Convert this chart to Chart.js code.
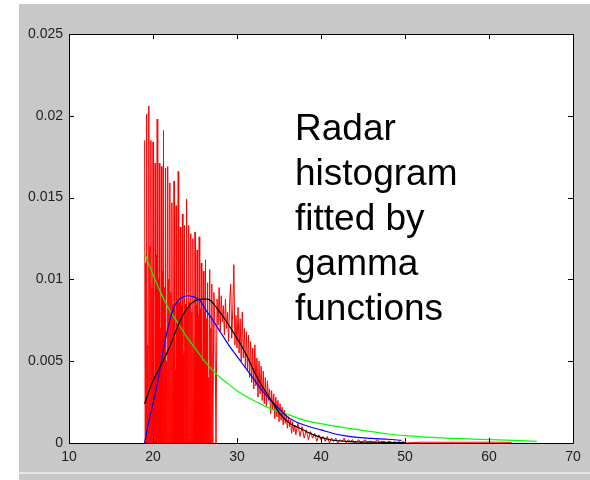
<!DOCTYPE html>
<html>
<head>
<meta charset="utf-8">
<script src="https://cdn.jsdelivr.net/npm/chart.js@4.4.0/dist/chart.umd.min.js"></script>
<style>
  html, body { margin: 0; padding: 0; background: #fff; }
</style>
</head>
<body>
<canvas id="radarHist" width="590" height="480"></canvas>
<script>
// histogram values are in units of 1e-4
const HIST_UNIT = 1e-4;

// 19 .. 27, bins every 0.0625 (spike, empty, mid, empty)
const histA = [
  185, 0, 110, 0, 201, 0, 60, 0, 206, 0, 120, 0, 185, 0, 95, 0,
  184, 0, 40, 0, 171, 0, 115, 0, 198, 0, 100, 0, 171, 0, 70, 0,
  169, 0, 105, 0, 191, 0, 95, 0, 168, 0, 50, 0, 169, 0, 100, 0,
  159, 0, 92, 0, 147, 0, 85, 0, 160, 0, 45, 0, 145, 0, 88, 0,
  166, 0, 86, 0, 132, 0, 84, 0, 140, 0, 55, 0, 133, 0, 85, 0,
  149, 0, 82, 0, 133, 0, 86, 0, 128, 0, 80, 0, 125, 0, 60, 0,
  129, 0, 84, 0, 118, 0, 78, 0, 126, 0, 82, 0, 110, 0, 50, 0,
  105, 0, 80, 0, 112, 0, 76, 0, 98, 0, 40, 0, 106, 0, 70, 0,
  97];
// 27.125 .. 37, bins every 0.125
const histB = [0, 92, 70, 0, 88, 72, 95, 68, 90, 74, 84, 66, 88, 70, 80, 62, 86, 97, 64, 82,
  109, 60, 78, 58, 83, 55, 76, 50, 80, 52, 70, 46, 68, 44, 66, 40, 62, 37, 58, 33,
  60, 35, 52, 28, 50, 30, 47, 26, 44, 24, 40, 22, 38, 26, 33, 18, 32, 20, 30, 15,
  28, 16, 26, 13, 24, 14, 22, 11, 20, 12, 17, 9, 16, 10, 14, 6, 13, 7, 11, 5];
// 37.25 .. 50, bins every 0.25
const histC = [12, 4, 10, 3, 8, 2, 7, 3, 6, 1, 5, 2, 4, 1, 4, 0, 3, 1, 3, 0,
  2, 1, 3, 0, 2, 1, 2, 0, 1, 2, 0, 1, 2, 0, 1, 1, 0, 1, 2, 0,
  1, 1, 0, 1, 1, 0, 1, 0, 1, 0, 1, 0];
const histTailX = [52, 56, 60, 62.7];
const histTailY = [0.5, 0.4, 0.5, 0.4];

// fitted gamma curves
const greenX = [19, 20, 21, 22, 23, 24, 25, 26, 27, 28, 29, 30, 32, 34, 36, 38, 40, 42, 44, 46, 48, 50, 52, 55, 58, 62, 65.7];
const greenY = [0.0116, 0.0103, 0.0091, 0.0081, 0.0073, 0.0065, 0.0058, 0.0051, 0.0045, 0.0040, 0.0036, 0.0032,
  0.0026, 0.0021, 0.00175, 0.0014, 0.00118, 0.0010, 0.00085, 0.0007, 0.00055, 0.00045, 0.00038, 0.0003, 0.00024, 0.00017, 0.0001];

const blueX = [19, 19.5, 20, 20.5, 21, 21.5, 22, 22.5, 23, 23.5, 24.2, 25, 25.6, 26.2, 27, 28, 29, 30, 31, 32, 33, 34, 35, 36, 37, 38, 40, 42, 44, 46, 48, 49.6];
const blueY = [0, 0.0013, 0.0024, 0.0036, 0.0050, 0.0064, 0.0075, 0.0083, 0.0087, 0.0089, 0.0090, 0.0089, 0.0087, 0.0082,
  0.0076, 0.0068, 0.0060, 0.0053, 0.0046, 0.0039, 0.0032, 0.0026, 0.0021, 0.0016, 0.0013, 0.0011, 0.0008, 0.00052,
  0.00036, 0.00028, 0.00023, 0.00016];

const blackX = [19, 20, 21, 22, 23, 24, 25, 25.8, 26.5, 27.8, 29.4, 31, 32.5, 34.1, 35.1, 36.3, 37.5, 39.1, 41.1, 43, 46, 50];
const blackY = [0.0024, 0.0038, 0.0048, 0.0059, 0.0072, 0.0082, 0.0087, 0.0088, 0.0088, 0.0081, 0.0069, 0.0055,
  0.0039, 0.0026, 0.0018, 0.0012, 0.0009, 0.0005, 0.0002, 0.0001, 0.00005, 0.00002];

const noteLines = ['Radar', 'histogram', 'fitted by', 'gamma', 'functions'];

function binned(start, step, vals) {
  return vals.map((v, i) => ({ x: start + i * step, y: v * HIST_UNIT }));
}
function pairs(xs, ys) {
  return xs.map((x, i) => ({ x: x, y: ys[i] }));
}

const histPoints = [
  ...binned(19, 0.0625, histA),
  ...binned(27.125, 0.125, histB),
  ...binned(37.25, 0.25, histC),
  ...pairs(histTailX, histTailY.map(v => v * HIST_UNIT))
];

// grey figure background
const figureBg = {
  id: 'figureBg',
  beforeDraw(chart) {
    const ctx = chart.ctx;
    ctx.save();
    ctx.fillStyle = '#ffffff';
    ctx.fillRect(0, 0, chart.width, chart.height);
    ctx.fillStyle = '#c8c8c8';
    ctx.fillRect(19, 4, chart.width - 19, chart.height - 4);
    ctx.fillStyle = '#e6e6e6';
    ctx.fillRect(19, 472, chart.width - 19, 2);
    const a = chart.chartArea;
    ctx.fillStyle = '#ffffff';
    ctx.fillRect(a.left, a.top, a.right - a.left, a.bottom - a.top);
    ctx.restore();
  }
};

// axes box with inward ticks, plus the note text
const boxAndNote = {
  id: 'boxAndNote',
  afterDatasetsDraw(chart) {
    const ctx = chart.ctx;
    const a = chart.chartArea;
    const xs = chart.scales.x, ys = chart.scales.y;
    ctx.save();
    ctx.strokeStyle = '#000';
    ctx.lineWidth = 1;
    ctx.beginPath();
    ctx.rect(Math.round(a.left) + 0.5, Math.round(a.top) + 0.5, Math.round(a.right - a.left), Math.round(a.bottom - a.top));
    xs.ticks.forEach(t => {
      const px = Math.round(xs.getPixelForValue(t.value)) + 0.5;
      ctx.moveTo(px, a.top); ctx.lineTo(px, a.top + 5);
      ctx.moveTo(px, a.bottom); ctx.lineTo(px, a.bottom - 5);
    });
    ys.ticks.forEach(t => {
      const py = Math.round(ys.getPixelForValue(t.value)) + 0.5;
      ctx.moveTo(a.left, py); ctx.lineTo(a.left + 5, py);
      ctx.moveTo(a.right, py); ctx.lineTo(a.right - 5, py);
    });
    ctx.stroke();

    ctx.fillStyle = '#000';
    ctx.font = '37px "Liberation Sans", Arial, sans-serif';
    ctx.textAlign = 'left';
    ctx.textBaseline = 'alphabetic';
    noteLines.forEach((line, i) => {
      ctx.fillText(line, a.left + 226, a.top + 106 + i * 45);
    });
    ctx.restore();
  }
};

const tickFont = { family: '"Liberation Sans", Arial, sans-serif', size: 14 };

new Chart(document.getElementById('radarHist'), {
  type: 'line',
  data: {
    datasets: [
      { label: 'gamma 2', data: pairs(blackX, blackY), borderColor: '#000000', borderWidth: 1.2, cubicInterpolationMode: 'monotone' },
      { label: 'gamma 1', data: pairs(blueX, blueY), borderColor: '#0000ff', borderWidth: 1.2, cubicInterpolationMode: 'monotone' },
      { label: 'exponential', data: pairs(greenX, greenY), borderColor: '#00ff00', borderWidth: 1.2, cubicInterpolationMode: 'monotone' },
      { label: 'histogram', data: histPoints, borderColor: '#ff0000', borderWidth: 1, tension: 0 }
    ]
  },
  options: {
    responsive: false,
    animation: false,
    events: [],
    layout: { padding: { left: 0, top: 34, right: 17, bottom: 0 } },
    elements: { point: { radius: 0 } },
    plugins: {
      legend: { display: false },
      tooltip: { enabled: false }
    },
    scales: {
      x: {
        type: 'linear',
        min: 10,
        max: 70,
        grid: { display: false, drawTicks: false },
        border: { display: false },
        ticks: { stepSize: 10, padding: 6, color: '#1e1e1e', font: tickFont, maxRotation: 0 },
        afterFit(scale) { scale.height = 37; }
      },
      y: {
        min: 0,
        max: 0.025,
        grid: { display: false, drawTicks: false },
        border: { display: false },
        ticks: {
          stepSize: 0.005,
          padding: 6,
          color: '#1e1e1e',
          font: tickFont,
          callback: v => String(+v.toFixed(3))
        },
        afterFit(scale) { scale.width = 69; }
      }
    }
  },
  plugins: [figureBg, boxAndNote]
});
</script>
</body>
</html>
